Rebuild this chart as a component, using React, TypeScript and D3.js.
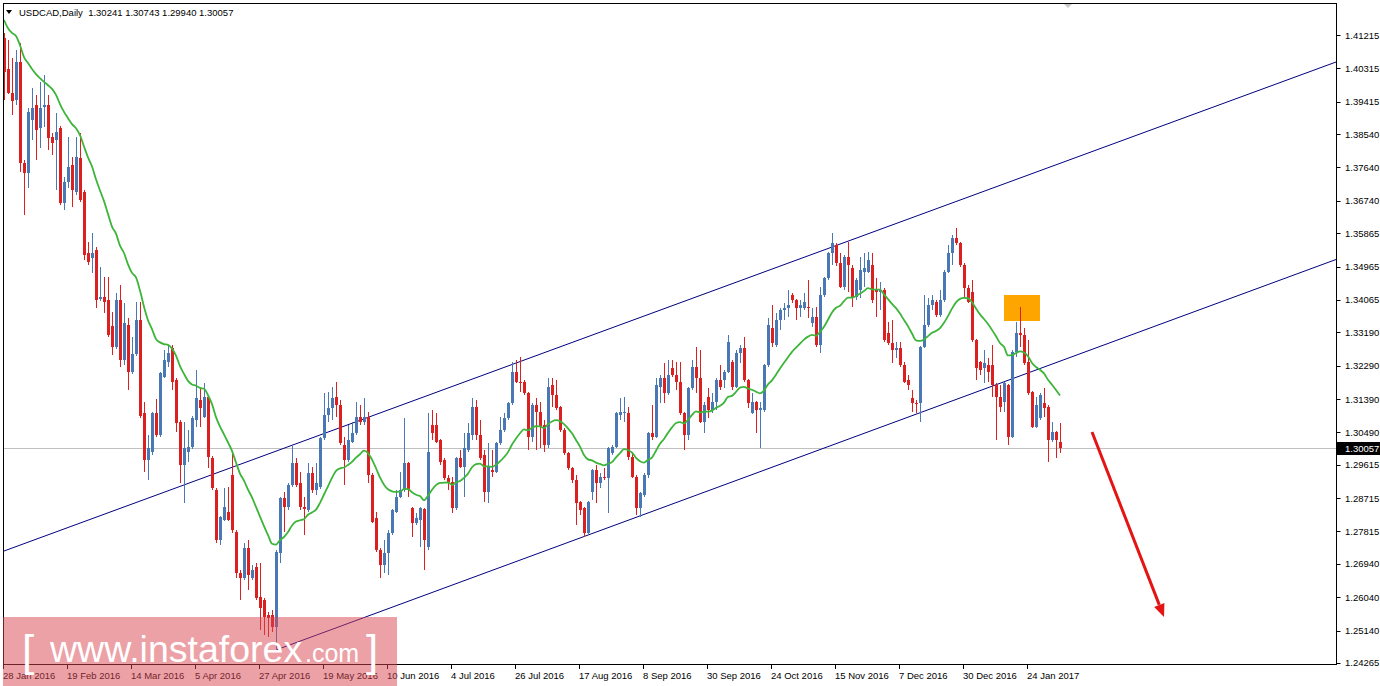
import React from "react";
import * as d3 from "d3";

// ---- Data (USDCAD Daily) ----
const opens = [
1.4113,1.4030,1.3965,1.3946,1.4049,1.3776,1.3749,1.3892,1.3933,1.3870,
1.3927,1.3933,1.3846,1.3838,1.3870,1.3668,1.3725,1.3771,1.3698,1.3789,
1.3698,1.3533,1.3519,1.3541,1.3409,1.3414,1.3406,1.3336,1.3279,1.3406,
1.3244,1.3339,1.3212,1.3260,1.3352,1.3101,1.2974,1.2996,1.3101,1.3042,
1.3198,1.3238,1.3276,1.3190,1.3077,1.2960,1.2996,1.3009,1.3082,1.3136,
1.3090,1.3144,1.2979,1.2893,1.2758,1.2812,1.2834,1.2933,1.2780,1.2669,
1.2655,1.2736,1.2655,1.2685,1.2604,1.2596,1.2556,1.2556,1.2523,1.2723,
1.2871,1.2847,1.2907,1.2966,1.2912,1.2847,1.2839,1.2939,1.2893,1.2901,
1.3033,1.3096,1.3114,1.3144,1.3123,1.3015,1.2974,1.3023,1.3047,1.3090,
1.3077,1.3090,1.2933,1.2817,1.2731,1.2691,1.2723,1.2777,1.2834,1.2874,
1.2893,1.2966,1.2844,1.2804,1.2812,1.2842,1.2739,1.3069,1.3069,1.3028,
1.2974,1.2925,1.2915,1.2844,1.2979,1.2955,1.3001,1.3042,1.3117,1.3042,
1.2988,1.2888,1.2947,1.2942,1.3020,1.3055,1.3087,1.3128,1.3212,1.3185,
1.3185,1.3155,1.3036,1.3123,1.3104,1.3069,1.3015,1.3177,1.3149,1.3117,
1.3055,1.2993,1.2952,1.2920,1.2861,1.2844,1.2777,1.2888,1.2947,1.2912,
1.2928,1.2925,1.2993,1.3009,1.3096,1.3101,1.3101,1.2982,1.2928,1.2844,
1.2880,1.2933,1.3047,1.3036,1.3171,1.3195,1.3155,1.3222,1.3204,1.3185,
1.3101,1.3042,1.3168,1.3225,1.3195,1.3077,1.3144,1.3109,1.3131,1.3190,
1.3190,1.3212,1.3238,1.3171,1.3263,1.3276,1.3190,1.3101,1.3131,1.3109,
1.3109,1.3231,1.3330,1.3285,1.3352,1.3379,1.3384,1.3420,1.3406,1.3384,
1.3384,1.3387,1.3344,1.3360,1.3285,1.3420,1.3465,1.3533,1.3555,1.3506,
1.3441,1.3522,1.3492,1.3414,1.3433,1.3482,1.3482,1.3500,1.3433,1.3428,
1.3433,1.3317,1.3290,1.3271,1.3276,1.3231,1.3190,1.3141,1.3128,1.3128,
1.3279,1.3339,1.3393,1.3401,1.3366,1.3406,1.3482,1.3533,1.3573,1.3560,
1.3500,1.3438,1.3428,1.3298,1.3238,1.3222,1.3231,1.3231,1.3177,1.3144,
1.3131,1.3177,1.3036,1.3266,1.3317,1.3312,1.3238,1.3158,1.3063,1.3087,
1.3128,1.3117,1.3028,1.3050,1.30241
];
const highs = [
1.4127,1.4108,1.4059,1.4081,1.4100,1.3784,1.3924,1.3978,1.3960,1.3995,
1.4014,1.3960,1.3857,1.3911,1.3876,1.3738,1.3846,1.3792,1.3846,1.3857,
1.3703,1.3563,1.3587,1.3549,1.3495,1.3468,1.3468,1.3374,1.3425,1.3447,
1.3398,1.3357,1.3306,1.3401,1.3401,1.3131,1.3042,1.3104,1.3139,1.3212,
1.3271,1.3285,1.3285,1.3195,1.3082,1.3077,1.3055,1.3093,1.3217,1.3168,
1.3182,1.3149,1.2985,1.2898,1.2822,1.2898,1.2901,1.2993,1.2785,1.2677,
1.2750,1.2758,1.2691,1.2696,1.2696,1.2601,1.2564,1.2569,1.2731,1.2874,
1.2888,1.2912,1.3012,1.2979,1.2942,1.2874,1.2966,1.2955,1.2966,1.3036,
1.3155,1.3158,1.3171,1.3185,1.3136,1.3036,1.3069,1.3077,1.3131,1.3123,
1.3141,1.3104,1.2939,1.2834,1.2736,1.2758,1.2785,1.2842,1.2893,1.2942,
1.3087,1.2970,1.2848,1.2831,1.2847,1.2845,1.3101,1.3109,1.3101,1.3031,
1.2979,1.2933,1.2928,1.2982,1.3001,1.3047,1.3074,1.3141,1.3136,1.3082,
1.3001,1.3020,1.3001,1.3023,1.3090,1.3101,1.3131,1.3238,1.3244,1.3252,
1.3190,1.3158,1.3128,1.3141,1.3131,1.3082,1.3195,1.3195,1.3190,1.3120,
1.3060,1.2996,1.2955,1.2933,1.2864,1.2847,1.2864,1.2950,1.2960,1.2939,
1.2952,1.3009,1.3015,1.3104,1.3141,1.3144,1.3117,1.2996,1.2933,1.2888,
1.2939,1.3050,1.3123,1.3195,1.3204,1.3236,1.3244,1.3244,1.3238,1.3238,
1.3104,1.3171,1.3244,1.3279,1.3271,1.3131,1.3168,1.3155,1.3195,1.3231,
1.3217,1.3312,1.3244,1.3271,1.3285,1.3306,1.3193,1.3155,1.3134,1.3131,
1.3234,1.3357,1.3393,1.3371,1.3384,1.3398,1.3433,1.3425,1.3409,1.3406,
1.3425,1.3460,1.3384,1.3387,1.3441,1.3468,1.3536,1.3587,1.3560,1.3533,
1.3528,1.3563,1.3500,1.3465,1.3522,1.3533,1.3536,1.3533,1.3465,1.3455,
1.3438,1.3347,1.3352,1.3293,1.3293,1.3238,1.3204,1.3163,1.3136,1.3282,
1.3420,1.3411,1.3420,1.3406,1.3433,1.3487,1.3555,1.3582,1.3600,1.3563,
1.3506,1.3447,1.3460,1.3301,1.3241,1.3271,1.3249,1.3285,1.3182,1.3177,
1.3185,1.3180,1.3271,1.3347,1.3387,1.3330,1.3298,1.3160,1.3144,1.3155,
1.3168,1.3123,1.3077,1.3052,1.30743
];
const lows = [
1.3946,1.3962,1.3906,1.3933,1.3752,1.3636,1.3708,1.3838,1.3784,1.3816,
1.3873,1.3811,1.3798,1.3703,1.3663,1.3649,1.3708,1.3657,1.3690,1.3671,
1.3514,1.3500,1.3479,1.3384,1.3403,1.3371,1.3306,1.3258,1.3274,1.3225,
1.3231,1.3163,1.3206,1.3255,1.3087,1.2942,1.2920,1.2988,1.3036,1.3036,
1.3195,1.3225,1.3163,1.3050,1.2912,1.2858,1.2969,1.3004,1.3063,1.3063,
1.3087,1.2952,1.2893,1.2750,1.2744,1.2809,1.2809,1.2777,1.2655,1.2596,
1.2650,1.2623,1.2650,1.2596,1.2515,1.2502,1.2496,1.2510,1.2461,1.2696,
1.2780,1.2840,1.2901,1.2901,1.2839,1.2771,1.2834,1.2885,1.2880,1.2896,
1.3028,1.3077,1.3082,1.3090,1.3015,1.2907,1.2969,1.3020,1.3042,1.3069,
1.3069,1.2912,1.2804,1.2726,1.2655,1.2669,1.2664,1.2771,1.2831,1.2871,
1.2888,1.2874,1.2766,1.2798,1.2739,1.2677,1.2731,1.3028,1.3020,1.2960,
1.2920,1.2893,1.2831,1.2839,1.2952,1.2874,1.2996,1.3028,1.3028,1.2974,
1.2861,1.2858,1.2928,1.2939,1.3015,1.3050,1.3082,1.3123,1.3182,1.3158,
1.3149,1.3001,1.3023,1.3001,1.3006,1.2996,1.3006,1.3117,1.3109,1.3050,
1.2988,1.2947,1.2912,1.2798,1.2826,1.2766,1.2771,1.2866,1.2858,1.2898,
1.2920,1.2831,1.2988,1.3006,1.3082,1.3077,1.2974,1.2925,1.2826,1.2820,
1.2874,1.2925,1.3028,1.3033,1.3128,1.3128,1.3149,1.3198,1.3163,1.3096,
1.3001,1.3028,1.3163,1.3155,1.3074,1.3047,1.3087,1.3101,1.3109,1.3163,
1.3168,1.3209,1.3163,1.3168,1.3236,1.3185,1.3114,1.3098,1.3047,1.3006,
1.3104,1.3225,1.3279,1.3279,1.3325,1.3352,1.3360,1.3398,1.3352,1.3360,
1.3379,1.3357,1.3333,1.3279,1.3263,1.3414,1.3460,1.3500,1.3498,1.3438,
1.3433,1.3428,1.3387,1.3406,1.3411,1.3441,1.3479,1.3398,1.3360,1.3379,
1.3293,1.3285,1.3236,1.3249,1.3225,1.3182,1.3163,1.3104,1.3101,1.3077,
1.3276,1.3333,1.3379,1.3360,1.3360,1.3401,1.3479,1.3500,1.3555,1.3495,
1.3411,1.3398,1.3293,1.3190,1.3204,1.3182,1.3185,1.3144,1.3028,1.3104,
1.3104,1.3015,1.3033,1.3252,1.3279,1.3231,1.3149,1.3060,1.3060,1.3082,
1.3090,1.2969,1.3023,1.2979,1.29940
];
const closes = [
1.4022,1.3965,1.3943,1.4049,1.3776,1.3749,1.3914,1.3924,1.3865,1.3924,
1.3933,1.3843,1.3830,1.3860,1.3668,1.3725,1.3765,1.3703,1.3792,1.3676,
1.3528,1.3509,1.3533,1.3406,1.3414,1.3401,1.3312,1.3279,1.3406,1.3244,
1.3344,1.3212,1.3260,1.3352,1.3093,1.2974,1.3006,1.3101,1.3042,1.3209,
1.3244,1.3263,1.3185,1.3074,1.2960,1.3006,1.3009,1.3087,1.3141,1.3114,
1.3144,1.2982,1.2898,1.2758,1.2820,1.2847,1.2812,1.2785,1.2669,1.2655,
1.2736,1.2664,1.2677,1.2601,1.2574,1.2550,1.2547,1.2523,1.2726,1.2871,
1.2847,1.2907,1.2966,1.2907,1.2847,1.2842,1.2939,1.2893,1.2912,1.3033,
1.3096,1.3114,1.3141,1.3123,1.3020,1.2974,1.3028,1.3047,1.3090,1.3077,
1.3090,1.2933,1.2807,1.2731,1.2691,1.2723,1.2777,1.2839,1.2874,1.2893,
1.2966,1.2893,1.2804,1.2817,1.2844,1.2758,1.2996,1.3047,1.3023,1.2969,
1.2925,1.2915,1.2844,1.2979,1.2955,1.3006,1.3047,1.3117,1.3042,1.2979,
1.2888,1.2955,1.2942,1.3020,1.3055,1.3087,1.3128,1.3212,1.3185,1.3182,
1.3155,1.3036,1.3123,1.3104,1.3063,1.3015,1.3171,1.3149,1.3114,1.3055,
1.2993,1.2952,1.2920,1.2858,1.2839,1.2777,1.2861,1.2947,1.2912,1.2928,
1.2925,1.3006,1.3009,1.3101,1.3104,1.3104,1.2982,1.2928,1.2844,1.2885,
1.2933,1.3047,1.3036,1.3177,1.3195,1.3155,1.3204,1.3204,1.3185,1.3101,
1.3042,1.3168,1.3225,1.3195,1.3077,1.3123,1.3109,1.3131,1.3190,1.3171,
1.3212,1.3293,1.3171,1.3263,1.3276,1.3190,1.3128,1.3131,1.3109,1.3114,
1.3231,1.3339,1.3290,1.3352,1.3379,1.3384,1.3393,1.3406,1.3384,1.3393,
1.3401,1.3384,1.3360,1.3285,1.3420,1.3465,1.3533,1.3560,1.3506,1.3441,
1.3522,1.3500,1.3414,1.3460,1.3487,1.3492,1.3514,1.3406,1.3428,1.3433,
1.3298,1.3290,1.3271,1.3276,1.3231,1.3185,1.3177,1.3128,1.3125,1.3279,
1.3339,1.3393,1.3406,1.3366,1.3406,1.3482,1.3533,1.3573,1.3560,1.3500,
1.3438,1.3401,1.3298,1.3222,1.3217,1.3236,1.3212,1.3177,1.3144,1.3117,
1.3182,1.3036,1.3266,1.3317,1.3312,1.3236,1.3155,1.3063,1.3123,1.3149,
1.3114,1.3028,1.3050,1.3028,1.30057
];
// Moving average values visible at the left edge (its earlier inputs are off-chart)
const maHead = [
1.4162,1.4140,1.4127,1.4119,1.4094,1.4062,1.4046,1.4030,1.4016,1.4005,
1.3995,1.3986,1.3976,1.3960,1.3935,1.3914,1.3897,1.3881,1.3870
];
const maPeriod = 20; // exponential moving average

const priceTicks = [
1.41215,1.40315,1.39415,1.38540,1.37640,1.36740,1.35865,1.34965,1.34065,1.33190,
1.32290,1.31390,1.30490,1.29615,1.28715,1.27815,1.26940,1.26040,1.25140,1.24265
];
const timeLabels = [
"28 Jan 2016","19 Feb 2016","14 Mar 2016","5 Apr 2016","27 Apr 2016","19 May 2016",
"10 Jun 2016","4 Jul 2016","26 Jul 2016","17 Aug 2016","8 Sep 2016","30 Sep 2016",
"24 Oct 2016","15 Nov 2016","7 Dec 2016","30 Dec 2016","24 Jan 2017"
];
const timeLabelBars = [0,16,32,48,64,80,96,112,128,144,160,176,192,208,224,240,256];

const symbolTitle = "USDCAD,Daily";
const lastOHLC = ["1.30241","1.30743","1.29940","1.30057"];
const lastPrice = 1.30057;

const upperChannel = [{ bar: -1, price: 1.27248 }, { bar: 333, price: 1.40486 }];
const lowerChannel = [{ bar: 68, price: 1.24616 }, { bar: 333, price: 1.35156 }];
const zoneBox = { bar0: 250, bar1: 259, top: 1.34198, bottom: 1.33496 };
const arrowPts = { bar0: 272, p0: 1.30500, bar1: 290, p1: 1.25506 };

// ---- Layout ----
const W = 1380, H = 686;
const L = 3, R = 1336, T = 3, B = 664;
const BULL = "#4a78b4";
const BEAR = "#dc1f1f";
const FONT = "'Liberation Sans', Arial, sans-serif";

export default function App() {
  const x = d3.scaleLinear().domain([0, 333]).range([4, 1336]);
  const y = d3.scaleLinear().domain([1.24238, 1.42079]).range([B, T]);

  const k = 2 / (maPeriod + 1);
  const ma: [number, number][] = [];
  closes.forEach((c, i) => {
    if (i < maHead.length) ma.push([i, maHead[i]]);
    else ma.push([i, ma[i - 1][1] + k * (c - ma[i - 1][1])]);
  });
  const maLine = d3.line<[number, number]>().x(d => x(d[0])).y(d => y(d[1])).curve(d3.curveMonotoneX);
  const chLine = d3.line<{ bar: number; price: number }>().x(d => x(d.bar)).y(d => y(d.price));

  const ax0 = x(arrowPts.bar0), ay0 = y(arrowPts.p0);
  const ax1 = x(arrowPts.bar1), ay1 = y(arrowPts.p1);
  const ang = Math.atan2(ay1 - ay0, ax1 - ax0);
  const headLen = 13, headW = 5.5;
  const bx = ax1 - headLen * Math.cos(ang), by = ay1 - headLen * Math.sin(ang);
  const head = [
    [ax1, ay1],
    [bx + headW * Math.sin(ang), by - headW * Math.cos(ang)],
    [bx - headW * Math.sin(ang), by + headW * Math.cos(ang)],
  ];

  return (
    <div style={{ position: "fixed", left: 0, top: 0, width: W, height: H, background: "#fff" }}>
      <svg width={W} height={H} style={{ display: "block" }} fontFamily={FONT}>
        <defs>
          <clipPath id="plot"><rect x={L} y={T} width={R - L} height={B - T} /></clipPath>
        </defs>
        <rect x={0} y={0} width={W} height={H} fill="#fff" />

        <g clipPath="url(#plot)">
          {/* current price line */}
          <line x1={L} x2={R} y1={Math.round(y(lastPrice)) + 0.5} y2={Math.round(y(lastPrice)) + 0.5} stroke="#c0c0c0" strokeWidth={1} />

          {/* channel lines */}
          <path d={chLine(upperChannel) || ""} fill="none" stroke="#000080" strokeWidth={1} />
          <path d={chLine(lowerChannel) || ""} fill="none" stroke="#000080" strokeWidth={1} />

          {/* orange zone */}
          <rect x={x(zoneBox.bar0)} y={y(zoneBox.top)} width={x(zoneBox.bar1) - x(zoneBox.bar0)}
            height={y(zoneBox.bottom) - y(zoneBox.top)} fill="#ffa500" />

          {/* candles */}
          {closes.map((c, i) => {
            const o = opens[i];
            const cx = Math.round(x(i));
            const col = c > o ? BULL : BEAR;
            const yt = Math.round(y(Math.max(o, c)));
            const yb = Math.round(y(Math.min(o, c)));
            return (
              <g key={i}>
                <line x1={cx + 0.5} x2={cx + 0.5} y1={Math.round(y(highs[i]))} y2={Math.round(y(lows[i]))} stroke={col} strokeWidth={1} />
                <rect x={cx - 1} y={yt} width={3} height={Math.max(1, yb - yt)} fill={col} />
              </g>
            );
          })}

          {/* moving average */}
          <path d={maLine(ma) || ""} fill="none" stroke="#3db43a" strokeWidth={1.8} strokeLinejoin="round" />

          {/* red arrow */}
          <line x1={ax0} y1={ay0} x2={bx} y2={by} stroke="#e41414" strokeWidth={3} />
          <polygon points={head.map(p => p.join(",")).join(" ")} fill="#e41414" />

          {/* chart shift marker */}
          <polygon points="1063,3 1073,3 1068,8" fill="#c8c8c8" />
        </g>

        {/* frame */}
        <rect x={L + 0.5} y={T + 0.5} width={R - L} height={B - T} fill="none" stroke="#000" strokeWidth={1} />

        {/* price axis */}
        {priceTicks.map((p, i) => (
          <g key={"pt" + i}>
            <line x1={R + 0.5} x2={R + 4.5} y1={Math.round(y(p)) + 0.5} y2={Math.round(y(p)) + 0.5} stroke="#000" />
            <text x={R + 9} y={y(p) + 3.5} fontSize={9.5} fill="#000">{p.toFixed(5)}</text>
          </g>
        ))}
        <rect x={R + 1} y={Math.round(y(lastPrice)) - 6} width={W - R - 1} height={13} fill="#000" />
        <text x={R + 9} y={y(lastPrice) + 3.5} fontSize={9.5} fill="#fff">{lastPrice.toFixed(5)}</text>

        {/* time axis */}
        {timeLabelBars.map((b, i) => (
          <g key={"tl" + i}>
            <line x1={Math.round(x(b)) - 0.5} x2={Math.round(x(b)) - 0.5} y1={B} y2={B + 5} stroke="#000" />
            <text x={x(b) - 1} y={679} fontSize={9.5} fill="#000">{timeLabels[i]}</text>
          </g>
        ))}

        {/* header */}
        <polygon points="6,10 12,10 9,14" fill="#000" />
        <text x={19} y={15.5} fontSize={9.5} fill="#000" xmlSpace="preserve">
          {symbolTitle + "  " + lastOHLC.join(" ")}
        </text>

        {/* watermark */}
        <rect x={3} y={617} width={394} height={69} fill="#d9434f" opacity={0.5} />
        <g fill="#fff">
          <text x={22} y={666} fontSize={44} fontWeight={300}>[</text>
          <text x={50} y={662} fontSize={37.5}>www.instaforex</text>
          <text x={305} y={662} fontSize={25}>.com</text>
          <text x={366} y={666} fontSize={44} fontWeight={300}>]</text>
        </g>
      </svg>
    </div>
  );
}
